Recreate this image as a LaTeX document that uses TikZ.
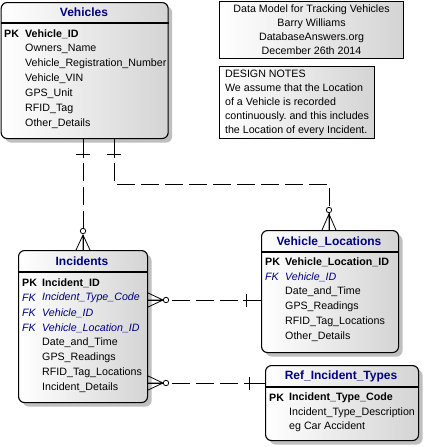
\documentclass[tikz,border=0pt]{standalone}
\usepackage{fontspec}
\setmainfont{Liberation Sans}
\usetikzlibrary{shadows}
\definecolor{navy}{RGB}{0,0,128}
\definecolor{fade}{RGB}{212,212,212}
\frenchspacing
\begin{document}
\begin{tikzpicture}[x=1pt,y=-1pt,
  entity/.style={draw,line width=1.1pt,rounded corners=6pt,anchor=north west,inner sep=0pt,left color=white,right color=fade,drop shadow={shadow xshift=4pt,shadow yshift=-4pt,fill=black!25,opacity=1}},
  note/.style={draw,line width=1.1pt,anchor=north west,left color=white,right color=fade,font=\fontsize{10.67}{14}\selectfont},
  ttl/.style={font=\fontsize{12}{14}\selectfont\bfseries,text=navy},
  fld/.style={anchor=west,inner sep=0pt,font=\fontsize{10.67}{13}\selectfont},
  pk/.style={anchor=west,inner sep=0pt,font=\fontsize{10.67}{13}\selectfont\bfseries},
  fk/.style={anchor=west,inner sep=0pt,font=\fontsize{10.67}{13}\selectfont\itshape,text=navy},
  link/.style={thick,dash pattern=on 18pt off 6pt}]
\useasboundingbox (0,0) rectangle (424,447);
% title and notes
\node[note,minimum width=184pt,minimum height=57pt,align=center] (about) at (219,1) {Data Model for Tracking Vehicles\\Barry Williams\\DatabaseAnswers.org\\December 26th 2014};
\node[note,minimum width=155pt,minimum height=72pt,inner xsep=4pt,align=left] (design) at (219,66) {DESIGN NOTES\\We assume that the Location\\of a Vehicle is recorded\\continuously. and this includes\\the Location of every Incident.};
% Vehicles
\node[entity,minimum width=167pt,minimum height=136pt] (veh) at (0.6,2) {};
\draw[line width=1.1pt] (veh.west |- 0,23) -- (veh.east |- 0,23);
\node[ttl] (vehT) at (84,12) {Vehicles};
\node[pk] (vehK) at (4,34) {PK};
\node[pk] (vehP) at (25,34) {Vehicle\_ID};
\foreach \f [count=\i] in {Owners\_Name,Vehicle\_Registration\_Number,Vehicle\_VIN,GPS\_Unit,RFID\_Tag,Other\_Details}
  \node[fld] (vehF\i) at (25,34+15*\i) {\f};
% Incidents
\node[entity,minimum width=129pt,minimum height=152pt] (inc) at (18,250) {};
\draw[line width=1.1pt] (inc.west |- 0,272) -- (inc.east |- 0,272);
\node[ttl] (incT) at (82,261) {Incidents};
\node[pk] (incK) at (22,283) {PK};
\node[pk] (incP) at (42,283) {Incident\_ID};
\foreach \f [count=\i] in {Incident\_Type\_Code,Vehicle\_ID,Vehicle\_Location\_ID}{
  \node[fk] (incK\i) at (22,283+15*\i) {FK};
  \node[fk] (incFK\i) at (42,283+15*\i) {\f};}
\foreach \f [count=\i from 4] in {Date\_and\_Time,GPS\_Readings,RFID\_Tag\_Locations,Incident\_Details}
  \node[fld] (incF\i) at (42,283+15*\i) {\f};
% Vehicle_Locations
\node[entity,minimum width=137pt,minimum height=122pt] (vloc) at (261,230) {};
\draw[line width=1.1pt] (vloc.west |- 0,252) -- (vloc.east |- 0,252);
\node[ttl] (vlocT) at (329,242) {Vehicle\_Locations};
\node[pk] (vlocK) at (265,262) {PK};
\node[pk] (vlocP) at (285,262) {Vehicle\_Location\_ID};
\node[fk] (vlocK1) at (265,277) {FK};
\node[fk] (vlocFK1) at (285,277) {Vehicle\_ID};
\foreach \f [count=\i from 2] in {Date\_and\_Time,GPS\_Readings,RFID\_Tag\_Locations,Other\_Details}
  \node[fld] (vlocF\i) at (285,262+15*\i) {\f};
% Ref_Incident_Types
\node[entity,minimum width=153pt,minimum height=75pt] (rit) at (265,365) {};
\draw[line width=1.1pt] (rit.west |- 0,387) -- (rit.east |- 0,387);
\node[ttl] (ritT) at (341,376) {Ref\_Incident\_Types};
\node[pk] (ritK) at (269,398) {PK};
\node[pk] (ritP) at (289,398) {Incident\_Type\_Code};
\node[fld] (ritF1) at (289,412.5) {Incident\_Type\_Description};
\node[fld] (ritF2) at (289,427) {eg Car Accident};
% Vehicles -- Incidents
\draw[link] (veh.south -| 83,0) -- (inc.north -| 83,0);
\draw[thick] (veh.south -| 83,0) -- ++(0,19) (76,154) -- (90,154);
\draw[thick] (inc.north -| 76,0) -- (83,235) -- (inc.north -| 90,0) (83,235) -- (inc.north -| 83,0);
\draw[thick,fill=white] (83,231) circle (2.7);
% Vehicles -- Vehicle_Locations
\draw[link] (veh.south -| 114,0) |- (329,184) -- (vloc.north -| 329,0);
\draw[thick] (veh.south -| 114,0) -- ++(0,19) (107,154) -- (121,154);
\draw[thick] (vloc.north -| 322,0) -- (329,214) -- (vloc.north -| 336,0) (329,214) -- (vloc.north -| 329,0);
\draw[thick,fill=white] (329,210) circle (2.7);
% Incidents -- Vehicle_Locations
\draw[link] (inc.east |- 0,300) -- (vloc.west |- 0,300);
\draw[thick] (inc.east |- 0,293) -- (163,300) -- (inc.east |- 0,307) (163,300) -- (inc.east |- 0,300);
\draw[thick,fill=white] (166,300) circle (2.7);
\draw[thick] (246,294) -- (246,307) (243,300) -- (vloc.west |- 0,300);
% Incidents -- Ref_Incident_Types
\draw[link] (inc.east |- 0,383) -- (rit.west |- 0,383);
\draw[thick] (inc.east |- 0,376) -- (163,383) -- (inc.east |- 0,390) (163,383) -- (inc.east |- 0,383);
\draw[thick,fill=white] (166,383) circle (2.7);
\draw[thick] (249,377) -- (249,390) (246,383) -- (rit.west |- 0,383);
\end{tikzpicture}
\end{document}
